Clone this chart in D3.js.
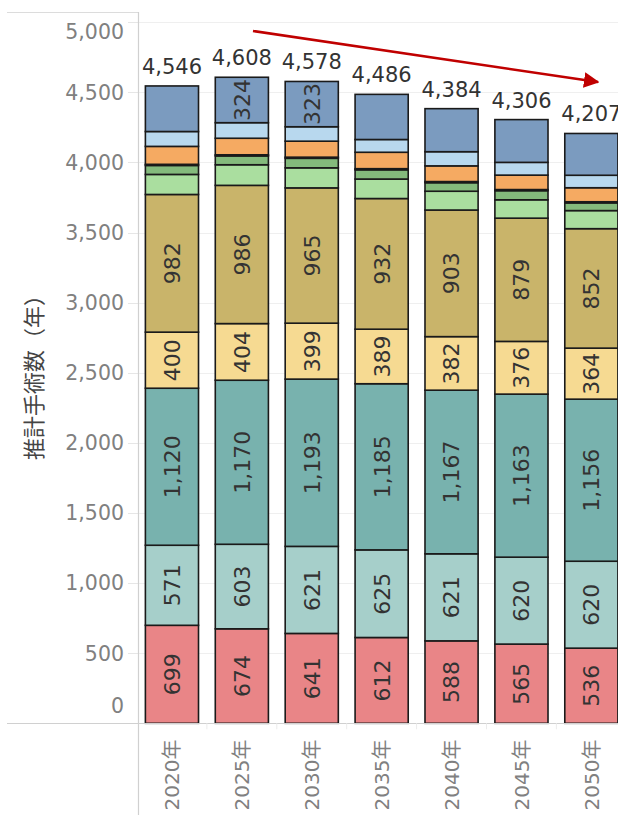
<!DOCTYPE html>
<html><head><meta charset="utf-8">
<script src="https://cdn.jsdelivr.net/npm/d3@7"></script>
<style>
html,body{margin:0;padding:0;background:#fff;}
svg{display:block;font-family:"DejaVu Sans","Noto Sans CJK JP",sans-serif;}
</style></head>
<body><svg id="chart" width="618" height="815"></svg>
<script>
// ---- data ----
const years = ["2020年","2025年","2030年","2035年","2040年","2045年","2050年"];
const totals = [4546, 4608, 4578, 4486, 4384, 4306, 4207];
// stacked series, bottom to top
const seriesRed        = [699, 674, 641, 612, 588, 565, 536];
const seriesLightTeal  = [571, 603, 621, 625, 621, 620, 620];
const seriesTeal       = [1120, 1170, 1193, 1185, 1167, 1163, 1156];
const seriesYellow     = [400, 404, 399, 389, 382, 376, 364];
const seriesKhaki      = [982, 986, 965, 932, 903, 879, 852];
const seriesLightGreen = [143, 147, 143, 139, 134, 131, 129];
const seriesGreen      = [64, 63, 68, 66, 61, 65, 55];
const seriesLightOrange= [8, 8, 8, 8, 8, 8, 8];
const seriesOrange     = [128, 118, 114, 117, 112, 103, 100];
const seriesLightBlue  = [106, 111, 103, 91, 101, 91, 89];
const seriesBlue       = [325, 324, 323, 322, 307, 305, 298];
const blueLabelShown   = [false, true, true, false, false, false, false];
const yTicks = [0, 500, 1000, 1500, 2000, 2500, 3000, 3500, 4000, 4500, 5000];
const yTitle = "推計手術数（年）";

const series = [
  {key:"red", values:seriesRed, color:"#E98587", label:true},
  {key:"lightTeal", values:seriesLightTeal, color:"#A6CFCA", label:true},
  {key:"teal", values:seriesTeal, color:"#78B2AE", label:true},
  {key:"yellow", values:seriesYellow, color:"#F6DA92", label:true},
  {key:"khaki", values:seriesKhaki, color:"#C9B46A", label:true},
  {key:"lightGreen", values:seriesLightGreen, color:"#AADE9F", label:false},
  {key:"green", values:seriesGreen, color:"#84BA7C", label:false},
  {key:"lightOrange", values:seriesLightOrange, color:"#FFCE9E", label:false},
  {key:"orange", values:seriesOrange, color:"#F5AA62", label:false},
  {key:"lightBlue", values:seriesLightBlue, color:"#B8D8EE", label:false},
  {key:"blue", values:seriesBlue, color:"#7B9BBF", label:blueLabelShown}
];

const table = years.map((y,i)=>{
  const row = {year:y};
  series.forEach(s=>row[s.key]=s.values[i]);
  return row;
});

const svg = d3.select("#chart");
const W = 618, H = 815;
const plotLeft = 138, plotBottom = 723.3;

const x = d3.scaleBand().domain(years).range([137, 626.3]).paddingInner(0.24).paddingOuter(0.12);
const y = d3.scaleLinear().domain([0, 5000]).range([plotBottom, plotBottom - 701]);

// frame lines
svg.append("line").attr("x1",7).attr("x2",plotLeft).attr("y1",12.5).attr("y2",12.5)
  .attr("stroke","#dcdcdc").attr("stroke-width",1);

// gridlines
svg.append("g").selectAll("line").data(yTicks.filter(d=>d>0)).join("line")
  .attr("x1",plotLeft).attr("x2",W)
  .attr("y1",d=>Math.round(y(d))+0.5).attr("y2",d=>Math.round(y(d))+0.5)
  .attr("stroke","#efefef").attr("stroke-width",1);
// small tick marks
svg.append("g").selectAll("line").data(yTicks).join("line")
  .attr("x1",128).attr("x2",plotLeft)
  .attr("y1",d=>Math.round(y(d))+0.5).attr("y2",d=>Math.round(y(d))+0.5)
  .attr("stroke","#e6e6e6").attr("stroke-width",1);

// y tick labels (edge labels nudged inside like the original)
svg.append("g").selectAll("text").data(yTicks).join("text")
  .attr("x",124)
  .attr("y",d=> y(d) + (d===0 ? -18 : d===5000 ? 9 : 0))
  .attr("dy","0.36em")
  .attr("text-anchor","end")
  .attr("font-size",20.5)
  .attr("fill","#808080")
  .text(d=>d3.format(",")(d));

// y title
svg.append("text")
  .attr("transform","translate(42,372) rotate(-90)")
  .attr("text-anchor","middle")
  .attr("font-family","'Noto Sans CJK JP',sans-serif")
  .attr("font-size",22)
  .attr("fill","#444")
  .text(yTitle);

// stacks
const stack = d3.stack().keys(series.map(s=>s.key));
const stacked = stack(table);

const gBars = svg.append("g");
stacked.forEach((layer, li)=>{
  const s = series[li];
  gBars.append("g").selectAll("rect").data(layer).join("rect")
    .attr("x", d=>x(d.data.year))
    .attr("width", x.bandwidth())
    .attr("y", d=>y(d[1]))
    .attr("height", d=>y(d[0]) - y(d[1]))
    .attr("fill", s.color)
    .attr("stroke", "#1a1a1a")
    .attr("stroke-width", 1.6);
});

// in-bar labels
stacked.forEach((layer, li)=>{
  const s = series[li];
  const shown = layer.filter((d,i)=> Array.isArray(s.label) ? s.label[i] : s.label);
  gBars.append("g").selectAll("text").data(shown).join("text")
    .attr("transform", d=>`translate(${x(d.data.year)+x.bandwidth()/2},${(y(d[0])+y(d[1]))/2}) rotate(-90)`)
    .attr("text-anchor","middle")
    .attr("dy","0.36em")
    .attr("font-size",22)
    .attr("fill","#333")
    .text(d=>d3.format(",")(d[1]-d[0]));
});

// totals
svg.append("g").selectAll("text").data(years).join("text")
  .attr("x", (d)=>x(d)+x.bandwidth()/2)
  .attr("y", (d,i)=>y(totals[i]) - 12)
  .attr("text-anchor","middle")
  .attr("font-size",21)
  .attr("fill","#333")
  .text((d,i)=>d3.format(",")(totals[i]));

// axis lines
svg.append("line").attr("x1",7).attr("x2",W).attr("y1",Math.round(plotBottom)+0.5).attr("y2",Math.round(plotBottom)+0.5)
  .attr("stroke","#d0d0d0").attr("stroke-width",1.2);
svg.append("line").attr("x1",plotLeft+0.5).attr("x2",plotLeft+0.5).attr("y1",12).attr("y2",H)
  .attr("stroke","#d0d0d0").attr("stroke-width",1.2);

// x separators
svg.append("g").selectAll("line").data(years.slice(1)).join("line")
  .attr("x1",d=>x(d)-x.step()*x.paddingInner()/2).attr("x2",d=>x(d)-x.step()*x.paddingInner()/2)
  .attr("y1",plotBottom).attr("y2",plotBottom+6)
  .attr("stroke","#ececec");

// x labels
svg.append("g").selectAll("text").data(years).join("text")
  .attr("transform", d=>`translate(${x(d)+x.bandwidth()/2},${775}) rotate(-90)`)
  .attr("text-anchor","middle")
  .attr("dy","0.36em")
  .attr("font-size",20)
  .attr("fill","#808080")
  .text(d=>d);

// trend arrow
const defs = svg.append("defs");
defs.append("marker").attr("id","ah").attr("viewBox","0 0 10 10")
  .attr("refX",9).attr("refY",5).attr("markerWidth",6).attr("markerHeight",6)
  .attr("markerUnits","strokeWidth").attr("orient","auto")
  .append("path").attr("d","M0,0 L10,5 L0,10 Z").attr("fill","#C00000");
svg.append("line").attr("x1",253).attr("y1",31).attr("x2",598).attr("y2",82)
  .attr("stroke","#C00000").attr("stroke-width",2.6).attr("marker-end","url(#ah)");
</script></body></html>
